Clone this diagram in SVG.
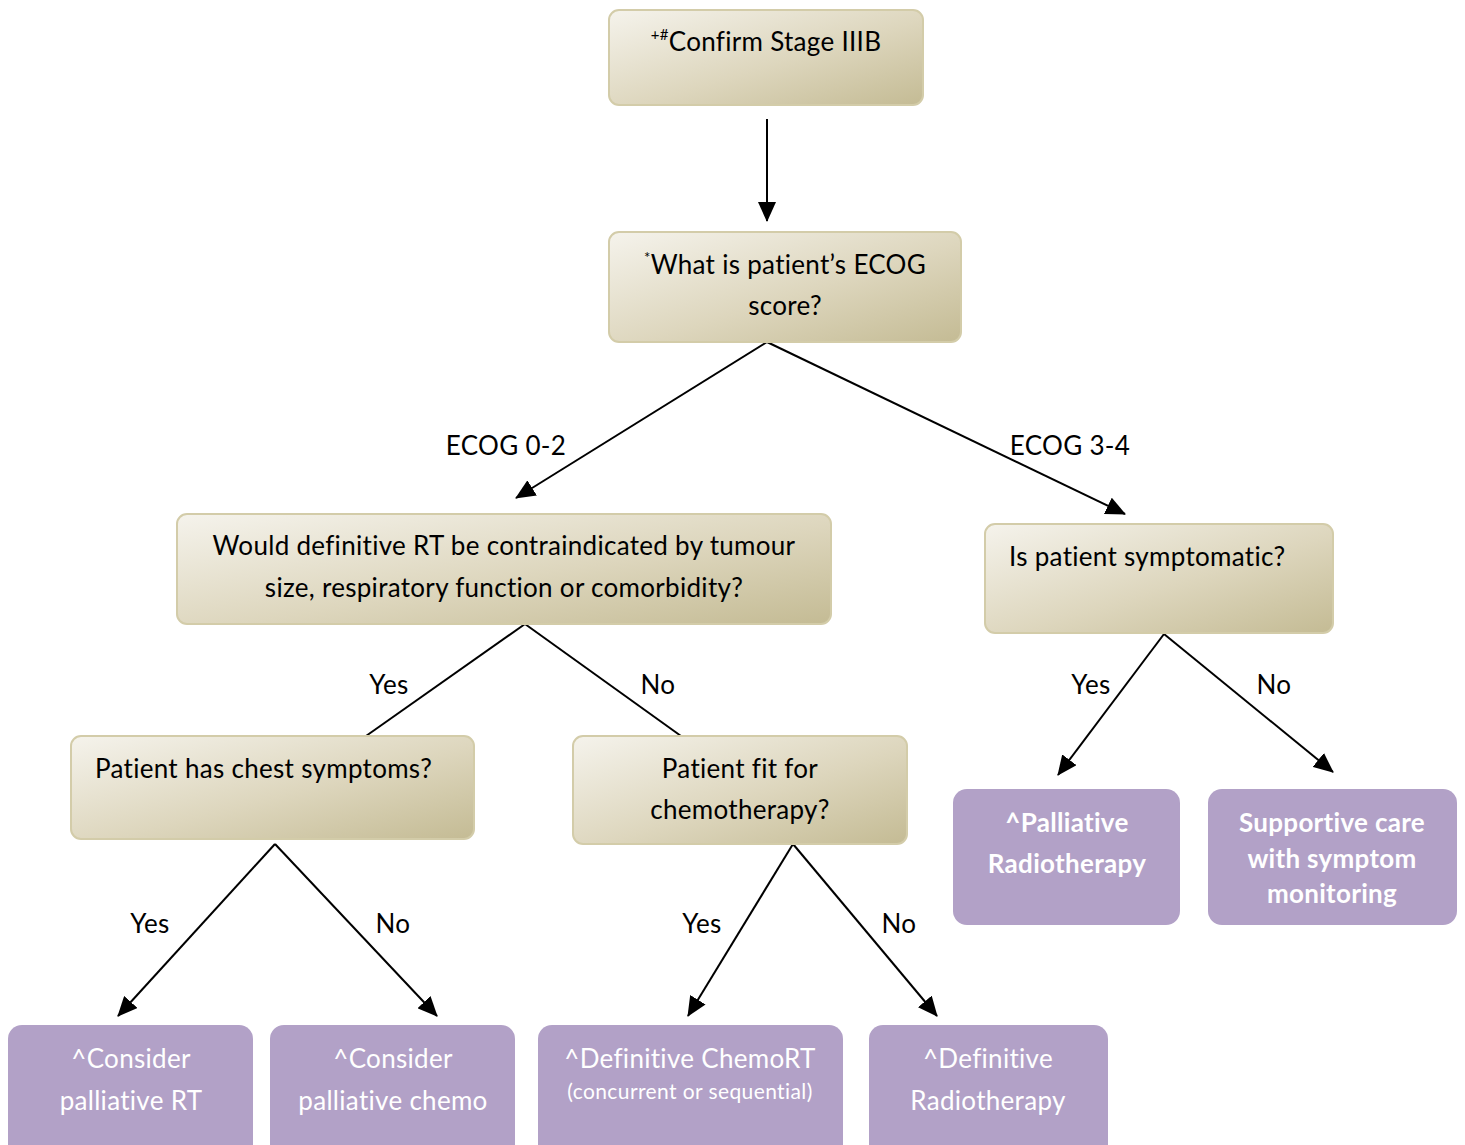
<svg xmlns="http://www.w3.org/2000/svg" width="1465" height="1145" viewBox="0 0 1465 1145">
  <defs>
    <linearGradient id="tan" x1="0" y1="0" x2="1" y2="1">
      <stop offset="0" stop-color="#f5f3ec"/>
      <stop offset="0.55" stop-color="#ddd6bd"/>
      <stop offset="1" stop-color="#c4bb94"/>
    </linearGradient>
    <marker id="arrow" markerUnits="userSpaceOnUse" markerWidth="20" markerHeight="18" viewBox="0 0 20 18" refX="19" refY="9" orient="auto">
      <path d="M0,0 L20,9 L0,18 Z" fill="#000"/>
    </marker>
    <style>
      .q { fill: url(#tan); stroke: #d3cca9; stroke-width: 2; }
      .r { fill: #b2a1c7; }
      .t { font-family: Lato, "Open Sans", "Liberation Sans", sans-serif; font-size: 26px; letter-spacing: 0.3px; fill: #000; }
      .w { font-family: Lato, "Open Sans", "Liberation Sans", sans-serif; font-size: 26px; letter-spacing: 0.3px; fill: #fff; }
      .b { font-weight: bold; }
      .s { font-size: 21px; letter-spacing: 0.4px; }
      .sup { font-size: 15px; }
      .c { text-anchor: middle; }
      .ln { stroke: #000; stroke-width: 2; fill: none; }
      .ar { marker-end: url(#arrow); }
    </style>
  </defs>

  <g id="connectors">
    <line class="ln ar" x1="767" y1="119" x2="767" y2="221"/>
    <line class="ln ar" x1="767" y1="342" x2="516" y2="498"/>
    <line class="ln ar" x1="767" y1="342" x2="1125" y2="514"/>
    <line class="ln" x1="525" y1="624" x2="366" y2="736"/>
    <line class="ln" x1="525" y1="624" x2="681" y2="736"/>
    <line class="ln ar" x1="1164" y1="634" x2="1058" y2="775"/>
    <line class="ln ar" x1="1164" y1="634" x2="1333" y2="772"/>
    <line class="ln ar" x1="275" y1="844" x2="118" y2="1016"/>
    <line class="ln ar" x1="275" y1="844" x2="437" y2="1016"/>
    <line class="ln ar" x1="793" y1="844" x2="688" y2="1016"/>
    <line class="ln ar" x1="793" y1="844" x2="937" y2="1016"/>
    <text class="t c" x="506" y="455">ECOG 0-2</text>
    <text class="t c" x="1070" y="455">ECOG 3-4</text>
    <text class="t c" x="389" y="694">Yes</text>
    <text class="t c" x="658" y="694">No</text>
    <text class="t c" x="1091" y="694">Yes</text>
    <text class="t c" x="1274" y="694">No</text>
    <text class="t c" x="150" y="933">Yes</text>
    <text class="t c" x="393" y="933">No</text>
    <text class="t c" x="702" y="933">Yes</text>
    <text class="t c" x="899" y="933">No</text>
  </g>

  <g id="confirm-stage">
    <rect class="q" x="609" y="10" width="314" height="95" rx="10"/>
    <text class="t c" x="766" y="51"><tspan class="sup" dy="-11">+#</tspan><tspan dy="11">Confirm Stage IIIB</tspan></text>
  </g>

  <g id="ecog-score">
    <rect class="q" x="609" y="232" width="352" height="110" rx="10"/>
    <text class="t c" x="785" y="274"><tspan class="sup" dy="-11">*</tspan><tspan dy="11">What is patient’s ECOG</tspan></text>
    <text class="t c" x="785" y="315">score?</text>
  </g>

  <g id="rt-contraindicated">
    <rect class="q" x="177" y="514" width="654" height="110" rx="10"/>
    <text class="t c" x="504" y="555">Would definitive RT be contraindicated by tumour</text>
    <text class="t c" x="504" y="597">size, respiratory function or comorbidity?</text>
  </g>

  <g id="symptomatic">
    <rect class="q" x="985" y="524" width="348" height="109" rx="10"/>
    <text class="t" x="1009" y="566">Is patient symptomatic?</text>
  </g>

  <g id="chest-symptoms">
    <rect class="q" x="71" y="736" width="403" height="103" rx="10"/>
    <text class="t" x="95" y="778">Patient has chest symptoms?</text>
  </g>

  <g id="fit-for-chemo">
    <rect class="q" x="573" y="736" width="334" height="108" rx="10"/>
    <text class="t c" x="740" y="778">Patient fit for</text>
    <text class="t c" x="740" y="819">chemotherapy?</text>
  </g>

  <g id="palliative-radiotherapy">
    <rect class="r" x="953" y="789" width="227" height="136" rx="14"/>
    <text class="w b c" x="1067" y="832">^Palliative</text>
    <text class="w b c" x="1067" y="873">Radiotherapy</text>
  </g>

  <g id="supportive-care">
    <rect class="r" x="1208" y="789" width="249" height="136" rx="14"/>
    <text class="w b c" x="1332" y="832">Supportive care</text>
    <text class="w b c" x="1332" y="868">with symptom</text>
    <text class="w b c" x="1332" y="903">monitoring</text>
  </g>

  <g id="palliative-rt">
    <rect class="r" x="8" y="1025" width="245" height="140" rx="14"/>
    <text class="w c" x="131" y="1068">^Consider</text>
    <text class="w c" x="131" y="1110">palliative RT</text>
  </g>

  <g id="palliative-chemo">
    <rect class="r" x="270" y="1025" width="245" height="140" rx="14"/>
    <text class="w c" x="393" y="1068">^Consider</text>
    <text class="w c" x="393" y="1110">palliative chemo</text>
  </g>

  <g id="definitive-chemort">
    <rect class="r" x="538" y="1025" width="305" height="140" rx="14"/>
    <text class="w c" x="690" y="1068">^Definitive ChemoRT</text>
    <text class="w s c" x="690" y="1099">(concurrent or sequential)</text>
  </g>

  <g id="definitive-radiotherapy">
    <rect class="r" x="869" y="1025" width="239" height="140" rx="14"/>
    <text class="w c" x="988" y="1068">^Definitive</text>
    <text class="w c" x="988" y="1110">Radiotherapy</text>
  </g>
</svg>
